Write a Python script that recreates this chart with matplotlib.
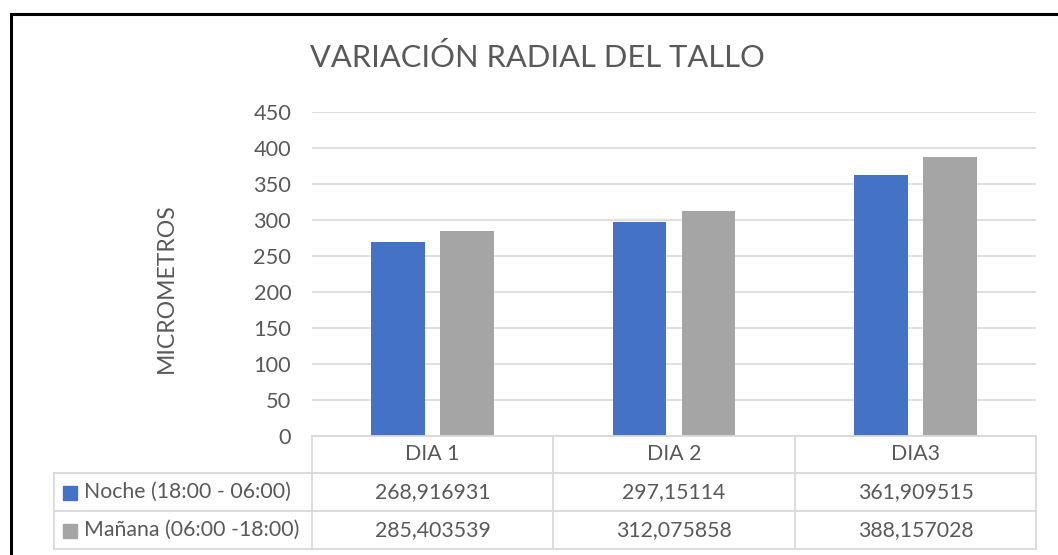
import matplotlib
matplotlib.use("Agg")
import matplotlib.pyplot as plt
from matplotlib.patches import Rectangle
from matplotlib.lines import Line2D
import numpy as np

categories = ["DIA 1", "DIA 2", "DIA3"]
series_names = ["Noche (18:00 - 06:00)", "Mañana (06:00 -18:00)"]
noche = [268.916931, 297.15114, 361.909515]
manana = [285.403539, 312.075858, 388.157028]
noche_labels = ["268,916931", "297,15114", "361,909515"]
manana_labels = ["285,403539", "312,075858", "388,157028"]
y_ticks = [0, 50, 100, 150, 200, 250, 300, 350, 400, 450]

BLUE = "#4472C4"
GRAY = "#A5A5A5"
TEXT = "#595959"
GRID = "#D9D9D9"

plt.rcParams["font.family"] = ["Lato", "DejaVu Sans"]

W, H = 1058, 555
fig = plt.figure(figsize=(W / 100, H / 100), dpi=100)
fig.patch.set_facecolor("white")
renderer = fig.canvas.get_renderer()


def fx(x):
    return x / W


def fy(y):
    return 1 - y / H


def size_for_width(text, width_px, start=14.0):
    """Font size at which `text` is `width_px` pixels wide."""
    t = fig.text(0, 0, text, fontsize=start)
    w = t.get_window_extent(renderer).width
    t.remove()
    return start * width_px / w


FS_TITLE = size_for_width("VARIACIÓN RADIAL DEL TALLO", 451, 22)
FS_TABLE = size_for_width("Noche (18:00 - 06:00)", 207)
FS_TICK = size_for_width("450", 38)
FS_YLAB = size_for_width("MICROMETROS", 169, 16)

# plot area
left, right, top, bottom = 312, 1036, 112, 436
ax = fig.add_axes([fx(left), fy(bottom), (right - left) / W, (bottom - top) / H])
x = np.arange(len(categories))
bw = 0.222
off = 0.143
ax.bar(x - off, noche, bw, color=BLUE, zorder=3)
ax.bar(x + off, manana, bw, color=GRAY, zorder=3)
ax.set_xlim(-0.5, len(categories) - 0.5)
ax.set_ylim(0, 450)
ax.set_yticks(y_ticks)
ax.yaxis.grid(True, color=GRID, linewidth=1.2, zorder=0)
ax.set_axisbelow(True)
for s in ax.spines.values():
    s.set_visible(False)
ax.tick_params(axis="y", length=0, labelsize=FS_TICK, labelcolor=TEXT, pad=15)
ax.set_xticks([])

# axis title
fig.text(fx(166), fy(288), "MICROMETROS", fontsize=FS_YLAB, color=TEXT,
         rotation=90, ha="center", va="center")

# chart title
fig.text(fx(537.5), fy(57), "VARIACIÓN RADIAL DEL TALLO", fontsize=FS_TITLE,
         color=TEXT, ha="center", va="center")

# data table
col_x = [54, 312, 553, 795, 1036]
row_y = [436, 473, 511, 549]


def hline(x0, x1, y):
    fig.add_artist(Line2D([fx(x0), fx(x1)], [fy(y), fy(y)], color=GRID, lw=1.3))


def vline(x, y0, y1):
    fig.add_artist(Line2D([fx(x), fx(x)], [fy(y0), fy(y1)], color=GRID, lw=1.3))


hline(312, 1036, 436)
for y in row_y[1:]:
    hline(col_x[0], 1036, y)
vline(col_x[0], 473, 549)
for cx in col_x[1:]:
    vline(cx, 436, 549)

for i, cat in enumerate(categories):
    cx = (col_x[i + 1] + col_x[i + 2]) / 2
    fig.text(fx(cx), fy((row_y[0] + row_y[1]) / 2), cat, fontsize=FS_TABLE,
             color=TEXT, ha="center", va="center")
    fig.text(fx(cx), fy((row_y[1] + row_y[2]) / 2), noche_labels[i],
             fontsize=FS_TABLE, color=TEXT, ha="center", va="center")
    fig.text(fx(cx), fy((row_y[2] + row_y[3]) / 2), manana_labels[i],
             fontsize=FS_TABLE, color=TEXT, ha="center", va="center")

for r, (name, col) in enumerate(zip(series_names, [BLUE, GRAY])):
    yc = (row_y[r + 1] + row_y[r + 2]) / 2
    fig.add_artist(Rectangle((fx(63), fy(yc + 7.5)), 14 / W, 14 / H, color=col))
    fig.text(fx(84), fy(yc), name, fontsize=FS_TABLE, color=TEXT,
             ha="left", va="center")

# chart border
fig.add_artist(Rectangle((fx(10.5), fy(600)), 1200 / W, (600 - 14.5) / H,
                         fill=False, edgecolor="black", lw=2.2))

fig.savefig("out.png", dpi=100)
